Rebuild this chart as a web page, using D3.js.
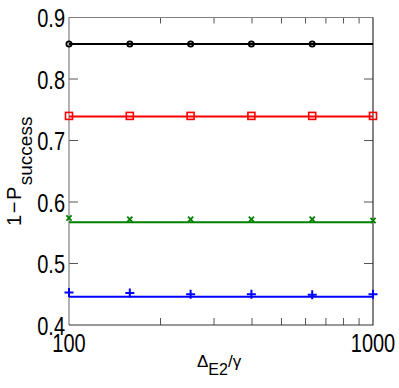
<!DOCTYPE html>
<meta charset="utf-8">
<head>
  <title>1-P success vs Delta E2 / gamma</title>
  <script src="https://d3js.org/d3.v7.min.js"></script>
</head>
<style>
body { margin: 0; background: #fff; }
svg text { font-family: "Liberation Sans", Arial, Helvetica, sans-serif; fill: #000; }
.frame { fill: none; }
.fit { fill: none; stroke-width: 2px; }
</style>
<body>
<script>
// x positions of the simulated points (log spaced)
var xs = [100, 158.5, 251.2, 398.1, 631, 1000]

// marker values per curve
var blackPts = [0.857, 0.857, 0.857, 0.857, 0.857]
var redPts   = [0.740, 0.740, 0.740, 0.740, 0.740, 0.740]
var greenPts = [0.574, 0.572, 0.572, 0.572, 0.572, 0.570]
var bluePts  = [0.453, 0.452, 0.450, 0.450, 0.449, 0.450]

// flat fitted lines
var lineVals = [0.857, 0.739, 0.567, 0.446]
var lineColors = ["#000000", "#ff0000", "#008000", "#0000ff"]

var yTicks = [0.4, 0.5, 0.6, 0.7, 0.8, 0.9]
var xMajor = [100, 1000]
var xMinor = [200, 300, 400, 500, 600, 700, 800, 900]

var width = 399, height = 388
var mLeft = 69, mRight = 373, mTop = 17.5, mBottom = 325

var x = d3.scaleLog().domain([100, 1000]).range([mLeft, mRight])
var y = d3.scaleLinear().domain([0.4, 0.9]).range([mBottom, mTop])

var svg = d3.select("body").append("svg")
    .attr("width", width)
    .attr("height", height)

svg.append("rect").attr("width", width).attr("height", height).attr("fill", "#fff")

// ticks (inside)
var ticks = svg.append("g").attr("stroke", "#555").attr("stroke-width", 1)
yTicks.slice(1, -1).forEach(function(t){
  ticks.append("line").attr("x1", mLeft).attr("x2", mLeft + 9).attr("y1", y(t)).attr("y2", y(t))
  ticks.append("line").attr("x1", mRight).attr("x2", mRight - 9).attr("y1", y(t)).attr("y2", y(t))
})
xMinor.forEach(function(t){
  ticks.append("line").attr("x1", x(t)).attr("x2", x(t)).attr("y1", mBottom).attr("y2", mBottom - 7)
  ticks.append("line").attr("x1", x(t)).attr("x2", x(t)).attr("y1", mTop).attr("y2", mTop + 6)
})

// frame
svg.append("path").attr("class", "frame").attr("stroke", "#808080").attr("stroke-width", 1.2)
  .attr("d", "M" + mLeft + "," + mBottom + "V" + mTop + "H" + mRight)
svg.append("path").attr("class", "frame").attr("stroke", "#333").attr("stroke-width", 1.2)
  .attr("d", "M" + mLeft + "," + mBottom + "H" + mRight + "V" + mTop)

// fitted lines
lineVals.forEach(function(v, i){
  svg.append("line").attr("class", "fit")
    .attr("x1", x(100)).attr("x2", x(1000))
    .attr("y1", y(v)).attr("y2", y(v))
    .attr("stroke", lineColors[i])
})

// markers
var black = svg.append("g").attr("fill", "none").attr("stroke", "#000").attr("stroke-width", 1.8)
blackPts.forEach(function(v, i){
  black.append("circle").attr("cx", x(xs[i])).attr("cy", y(v)).attr("r", 2.6)
})

var red = svg.append("g").attr("fill", "none").attr("stroke", "#ff0000").attr("stroke-width", 1.6)
redPts.forEach(function(v, i){
  red.append("rect").attr("x", x(xs[i]) - 3.5).attr("y", y(v) - 3.5).attr("width", 7).attr("height", 7)
})

var green = svg.append("g").attr("stroke", "#008000").attr("stroke-width", 1.8)
greenPts.forEach(function(v, i){
  var cx = x(xs[i]), cy = y(v), s = 2.6
  green.append("path").attr("d", "M" + (cx - s) + "," + (cy - s) + "L" + (cx + s) + "," + (cy + s)
    + "M" + (cx - s) + "," + (cy + s) + "L" + (cx + s) + "," + (cy - s))
})

var blue = svg.append("g").attr("stroke", "#0000ff").attr("stroke-width", 2)
bluePts.forEach(function(v, i){
  var cx = x(xs[i]), cy = y(v), s = 4.5
  blue.append("path").attr("d", "M" + (cx - s) + "," + cy + "H" + (cx + s)
    + "M" + cx + "," + (cy - s) + "V" + (cy + s))
})

// y tick labels (narrow font look)
yTicks.forEach(function(t){
  svg.append("text")
    .attr("transform", "translate(65," + y(t) + ") scale(0.8,1)")
    .attr("dy", "0.38em")
    .attr("text-anchor", "end")
    .style("font-size", "25px")
    .text(d3.format(".1f")(t))
})

// x tick labels
xMajor.forEach(function(t){
  svg.append("text")
    .attr("transform", "translate(" + x(t) + ",352) scale(0.8,1)")
    .attr("text-anchor", "middle")
    .style("font-size", "25px")
    .text(t)
})

// x axis label
var xl = svg.append("text")
  .attr("x", 197).attr("y", 367)
  .style("font-size", "17px")
xl.append("tspan").text("Δ")
xl.append("tspan").attr("dy", 8).style("font-size", "16px").text("E2")
xl.append("tspan").attr("dy", -8).text("/γ")

// y axis label
var yl = svg.append("text")
  .attr("transform", "translate(20.5," + ((mTop + mBottom) / 2) + ") rotate(-90)")
  .attr("text-anchor", "middle")
  .style("font-size", "20px")
yl.append("tspan").style("letter-spacing", "1.5px").text("1−P")
yl.append("tspan").attr("dy", 11).style("font-size", "19px").text("success")
</script>
</body>
